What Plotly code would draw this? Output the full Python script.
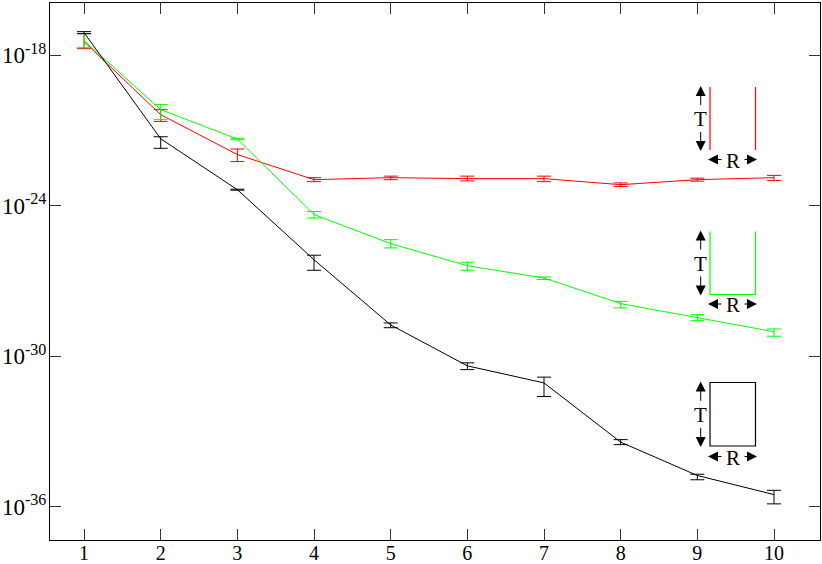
import plotly.graph_objects as go

# x positions
x_vals = [1, 2, 3, 4, 5, 6, 7, 8, 9, 10]

# log10 of values (center, upper, lower)
red_log = [-17.46, -20.37, -21.96, -22.96, -22.88, -22.92, -22.92, -23.16, -22.96, -22.88]
red_hi = [-17.14, -20.17, -21.74, -22.88, -22.82, -22.82, -22.82, -23.09, -22.90, -22.79]
red_lo = [-17.74, -20.64, -22.24, -23.04, -22.96, -23.01, -23.04, -23.23, -23.02, -22.99]

green_log = [-17.42, -20.17, -21.34, -24.35, -25.51, -26.39, -26.88, -27.90, -28.46, -29.02]
green_hi = [-17.14, -19.97, -21.31, -24.23, -25.35, -26.25, -26.84, -27.81, -28.34, -28.91]
green_lo = [-17.70, -20.57, -21.37, -24.49, -25.68, -26.57, -26.94, -28.07, -28.58, -29.20]

black_log = [-17.10, -21.33, -23.36, -26.15, -28.75, -30.38, -31.06, -33.42, -34.75, -35.51]
black_hi = [-17.06, -21.25, -23.34, -25.97, -28.67, -30.26, -30.83, -33.32, -34.70, -35.34]
black_lo = [-17.14, -21.71, -23.38, -26.57, -28.86, -30.53, -31.60, -33.52, -34.92, -35.88]

y_tickvals = [1e-18, 1e-24, 1e-30, 1e-36]
y_ticktext = ["10<sup>-18</sup>", "10<sup>-24</sup>", "10<sup>-30</sup>", "10<sup>-36</sup>"]
x_ticktext = ["1", "2", "3", "4", "5", "6", "7", "8", "9", "10"]

SERIF = "Liberation Serif"

fig = go.Figure()


def add_series(logs, his, los, color):
    y = [10 ** v for v in logs]
    up = [10 ** h - 10 ** v for h, v in zip(his, logs)]
    dn = [10 ** v - 10 ** l for l, v in zip(los, logs)]
    fig.add_trace(go.Scatter(
        x=x_vals, y=y, mode="lines",
        line=dict(color=color, width=1),
        error_y=dict(type="data", symmetric=False, array=up, arrayminus=dn,
                     color=color, thickness=1, width=7),
        showlegend=False, hoverinfo="skip"))


add_series(red_log, red_hi, red_lo, "#ff0000")
add_series(green_log, green_hi, green_lo, "#00ff00")
add_series(black_log, black_hi, black_lo, "#000000")

# ---- inset diagrams (decorations), in pixel -> domain coordinates ----
PL, PR, PT, PB = 50, 820, 3, 540


def fx(px):
    return (px - PL) / (PR - PL)


def fy(py):
    return (PB - py) / (PB - PT)


shapes = []
annotations = []


def seg(x0, y0, x1, y1, color):
    shapes.append(dict(type="line", xref="x domain", yref="y domain",
                       x0=fx(x0), y0=fy(y0), x1=fx(x1), y1=fy(y1),
                       line=dict(color=color, width=1.2)))


def arrow(hx, hy, tx, ty):
    annotations.append(dict(xref="x domain", yref="y domain",
                            axref="x domain", ayref="y domain",
                            x=fx(hx), y=fy(hy), ax=fx(tx), ay=fy(ty),
                            text="", showarrow=True, arrowhead=2,
                            arrowsize=2.0, arrowwidth=1, arrowcolor="black"))


def label(px, py, t):
    annotations.append(dict(xref="x domain", yref="y domain",
                            x=fx(px), y=fy(py), text=t, showarrow=False,
                            font=dict(family=SERIF, size=21, color="black"),
                            xanchor="center", yanchor="middle"))


def dims(top, bottom, rlabel_y):
    mid = (top + bottom) / 2
    arrow(700.7, top - 1, 700.7, mid - 12)
    arrow(700.7, bottom + 1, 700.7, mid + 12)
    label(700.7, mid + 1, "T")
    arrow(708, rlabel_y, 723, rlabel_y)
    arrow(757, rlabel_y, 743, rlabel_y)
    label(733, rlabel_y + 1, "R")


# red: two vertical lines
seg(710, 87, 710, 150, "#ff0000")
seg(755.5, 87, 755.5, 150, "#ff0000")
dims(87, 150, 159.5)

# green: U shape
seg(710, 231.5, 710, 294.5, "#00ff00")
seg(755.5, 231.5, 755.5, 294.5, "#00ff00")
seg(710, 294.5, 755.5, 294.5, "#00ff00")
dims(231.5, 294.5, 304)

# black: rectangle
shapes.append(dict(type="rect", xref="x domain", yref="y domain",
                   x0=fx(710), y0=fy(446), x1=fx(755.5), y1=fy(382.5),
                   line=dict(color="black", width=1.2)))
dims(382.5, 446, 456.5)

fig.update_layout(
    width=822, height=564, autosize=False,
    margin=dict(l=PL, r=822 - PR, t=PT, b=564 - PB, autoexpand=False),
    paper_bgcolor="white", plot_bgcolor="white",
    shapes=shapes, annotations=annotations,
    showlegend=False,
    font=dict(family=SERIF, color="black"),
)
fig.update_xaxes(
    range=[0.556, 10.60], tickvals=x_vals, ticktext=x_ticktext,
    ticks="inside", ticklen=11, tickcolor="#333333", tickwidth=1,
    showline=True, linecolor="black", linewidth=1, mirror="ticks",
    showgrid=False, zeroline=False, automargin=False,
    ticklabelstandoff=-5,
    tickfont=dict(family=SERIF, size=20, color="black"),
)
fig.update_yaxes(
    type="log", range=[-37.32, -15.92],
    tickvals=y_tickvals, ticktext=y_ticktext,
    ticks="inside", ticklen=11, tickcolor="#333333", tickwidth=1,
    showline=True, linecolor="black", linewidth=1, mirror="ticks",
    showgrid=False, zeroline=False, automargin=False,
    ticklabelstandoff=-2,
    tickfont=dict(family=SERIF, size=23, color="black"),
)

fig.write_html(
    "out.html",
    config={"responsive": False, "displayModeBar": False},
    default_width="822px", default_height="564px",
    post_script="document.body.style.margin='0px';document.body.style.overflow='hidden';",
)
